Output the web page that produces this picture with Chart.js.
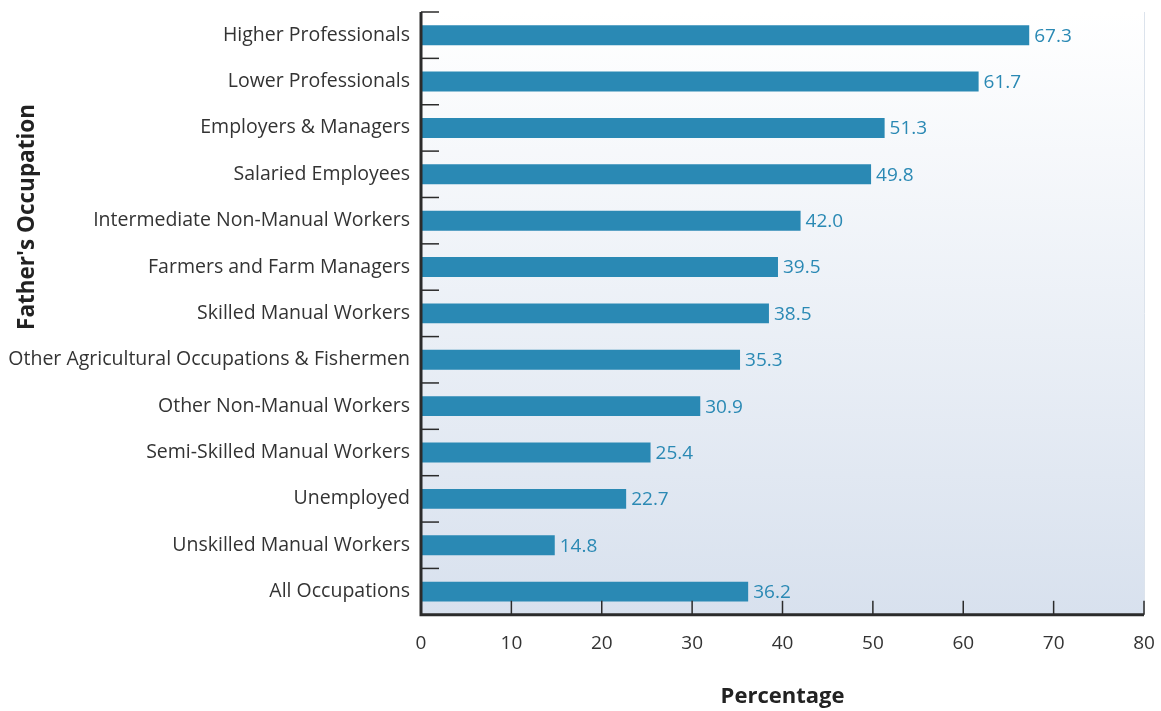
<!DOCTYPE html>
<html><head><meta charset="utf-8">
<script src="https://cdn.jsdelivr.net/npm/chart.js@4"></script>
<style>html,body{margin:0;padding:0;background:#fff}#wrap{width:1161px;height:711px}</style>
</head><body><div id="wrap"><canvas id="c" width="1161" height="711"></canvas></div>
<script>
const categories = ["Higher Professionals","Lower Professionals","Employers & Managers","Salaried Employees","Intermediate Non-Manual Workers","Farmers and Farm Managers","Skilled Manual Workers","Other Agricultural Occupations & Fishermen","Other Non-Manual Workers","Semi-Skilled Manual Workers","Unemployed","Unskilled Manual Workers","All Occupations"];
const percentages = [67.3,61.7,51.3,49.8,42.0,39.5,38.5,35.3,30.9,25.4,22.7,14.8,36.2];
const xTicks = [0,10,20,30,40,50,60,70,80];
const xTitle = "Percentage";
const yTitle = "Father's Occupation";

const FONT = "'Open Sans', 'Noto Sans', sans-serif";
const BAR = "#2a89b4";
const AXIS = "#2b2b2b";

const decor = {
  id: 'decor',
  beforeDraw(chart) {
    const {ctx, chartArea: a} = chart;
    const g = ctx.createLinearGradient(0, a.top, 0, a.bottom);
    g.addColorStop(0, '#ffffff');
    g.addColorStop(1, '#d8e1ee');
    ctx.save();
    ctx.fillStyle = g;
    ctx.fillRect(a.left, a.top, a.right - a.left, a.bottom - a.top);
    ctx.strokeStyle = '#dce3ec';
    ctx.lineWidth = 1;
    ctx.beginPath(); ctx.moveTo(a.right + 0.5, a.top); ctx.lineTo(a.right + 0.5, a.bottom); ctx.stroke();
    ctx.restore();
  },
  afterDatasetsDraw(chart) {
    const {ctx, chartArea: a, scales} = chart;
    const y = scales.y, x = scales.x;
    ctx.save();
    const meta = chart.getDatasetMeta(0);
    ctx.fillStyle = BAR;
    ctx.font = "19px " + FONT;
    ctx.textBaseline = 'middle';
    ctx.textAlign = 'left';
    meta.data.forEach((el, i) => {
      ctx.fillText(percentages[i].toFixed(1), el.x + 5, el.y + 1);
    });
    ctx.strokeStyle = AXIS;
    ctx.lineWidth = 1.5;
    const n = categories.length;
    const step = y.getPixelForValue(1) - y.getPixelForValue(0);
    for (let i = 0; i < n; i++) {
      const py = y.getPixelForValue(i) - step / 2;
      ctx.beginPath(); ctx.moveTo(a.left, py); ctx.lineTo(a.left + 18, py); ctx.stroke();
    }
    xTicks.forEach(v => {
      if (v === 0) return;
      const px = x.getPixelForValue(v);
      ctx.beginPath(); ctx.moveTo(px, a.bottom); ctx.lineTo(px, a.bottom - 14); ctx.stroke();
    });
    ctx.lineWidth = 3;
    ctx.beginPath();
    ctx.moveTo(a.left, a.top);
    ctx.lineTo(a.left, a.bottom);
    ctx.lineTo(a.right, a.bottom);
    ctx.stroke();
    ctx.fillStyle = '#222';
    ctx.font = "bold 22.5px " + FONT;
    ctx.textAlign = 'center';
    ctx.textBaseline = 'middle';
    ctx.translate(28, a.top + (a.bottom - a.top) * 0.34);
    ctx.rotate(-Math.PI / 2);
    ctx.fillText(yTitle, 0, 0);
    ctx.restore();
  }
};

new Chart(document.getElementById('c'), {
  type: 'bar',
  data: {
    labels: categories,
    datasets: [{ data: percentages, backgroundColor: BAR, borderWidth: 0, categoryPercentage: 1, barPercentage: 0.43 }]
  },
  options: {
    indexAxis: 'y',
    responsive: false,
    animation: false,
    layout: { padding: { top: 12, right: 17, left: 0, bottom: 1 } },
    plugins: { legend: { display: false }, tooltip: { enabled: false } },
    scales: {
      x: {
        type: 'linear', min: 0, max: 80,
        afterBuildTicks(s) { s.ticks = xTicks.map(v => ({ value: v })); },
        afterFit(s) { s.paddingLeft = 0; s.paddingRight = 0; },
        grid: { display: false, drawTicks: false },
        border: { display: false },
        ticks: { color: '#333', font: { family: FONT, size: 19 }, padding: 17 },
        title: { display: true, text: xTitle, color: '#222', font: { family: FONT, size: 22, weight: 'bold' }, padding: { top: 12, bottom: 0 } }
      },
      y: {
        grid: { display: false, drawTicks: false },
        border: { display: false },
        ticks: { color: '#333', font: { family: FONT, size: 19.5 }, padding: 11 },
        afterFit(s) { s.width = 421; s.paddingTop = 0; s.paddingBottom = 0; }
      }
    }
  },
  plugins: [decor]
});
</script>
</body></html>
